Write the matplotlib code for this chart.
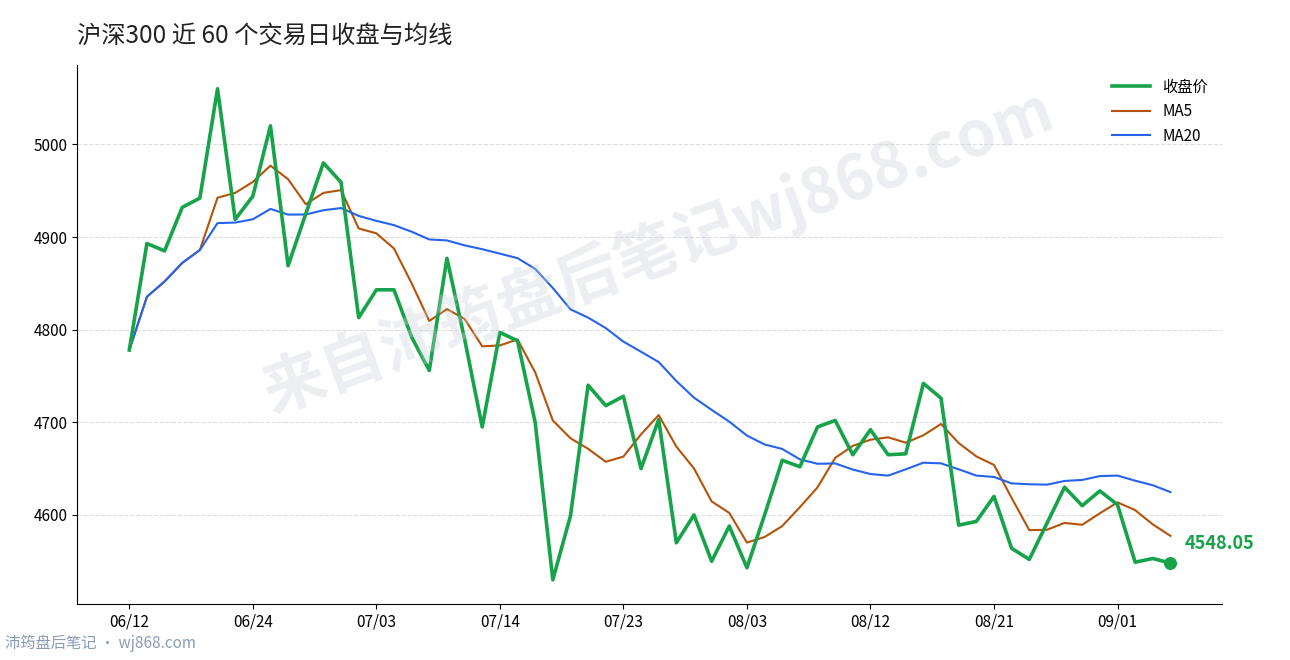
import numpy as np
import pandas as pd
import matplotlib
matplotlib.use("Agg")
import matplotlib.pyplot as plt

plt.rcParams['font.family'] = ['Noto Sans CJK SC', 'DejaVu Sans']

# closing prices (60 trading days)
close = [4778, 4893, 4885, 4932, 4942, 5060, 4919, 4944, 5020, 4869,
         4925, 4980, 4959, 4813, 4843, 4843, 4792, 4756, 4877, 4790,
         4695, 4797, 4788, 4700, 4530, 4599, 4740, 4718, 4728, 4650,
         4703, 4570, 4600, 4550, 4588, 4543, 4600, 4659, 4652, 4695,
         4702, 4665, 4692, 4665, 4666, 4742, 4726, 4589, 4593, 4620,
         4564, 4552, 4591, 4630, 4610, 4626, 4611, 4549, 4553, 4548.05]
tick_pos = [0, 7, 14, 21, 28, 35, 42, 49, 56]
tick_labels = ['06/12', '06/24', '07/03', '07/14', '07/23', '08/03', '08/12', '08/21', '09/01']

s = pd.Series(close)
ma5 = s.rolling(5, min_periods=1).mean()
ma20 = s.rolling(20, min_periods=1).mean()
x = np.arange(len(close))

fig = plt.figure(figsize=(12.9, 6.6), dpi=100)
ax = fig.add_axes([0.06, 0.085, 0.887, 0.817])

ax.plot(x, close, color='#16a34a', lw=2.6, label='收盘价', zorder=4)
ax.plot(x, ma5, color='#b45309', lw=1.5, label='MA5', zorder=3)
ax.plot(x, ma20, color='#2563eb', lw=1.5, label='MA20', zorder=3)
ax.scatter([x[-1]], [close[-1]], s=70, color='#16a34a', zorder=5)
ax.annotate(f'{close[-1]:.2f}', (x[-1], close[-1]), xytext=(10, 10),
            textcoords='offset points', color='#16a34a', fontsize=13, fontweight='bold')

ax.set_xlim(-2.94, 61.9)
ax.set_ylim(4504, 5086)
ax.set_xticks(tick_pos)
ax.set_xticklabels(tick_labels)
ax.set_yticks([4600, 4700, 4800, 4900, 5000])
ax.tick_params(labelsize=11)
ax.grid(axis='y', ls='--', color='#dddddd', lw=0.8)
ax.set_axisbelow(True)
for sp in ['top', 'right']:
    ax.spines[sp].set_visible(False)

ax.legend(loc='upper right', frameon=False, fontsize=11, handlelength=2.5)

fig.text(0.06, 0.945, '沪深300 近 60 个交易日收盘与均线', fontsize=17.5, color='#222222', va='center')
fig.text(0.51, 0.62, '来自沛筠盘后笔记wj868.com', fontsize=45, color='#cbd0dc', alpha=0.35,
         rotation=20, ha='center', va='center', fontweight='bold')
fig.text(0.004, 0.018, '沛筠盘后笔记 · wj868.com', fontsize=11, color='#8a9bb8')

fig.savefig('out.png', dpi=100)
